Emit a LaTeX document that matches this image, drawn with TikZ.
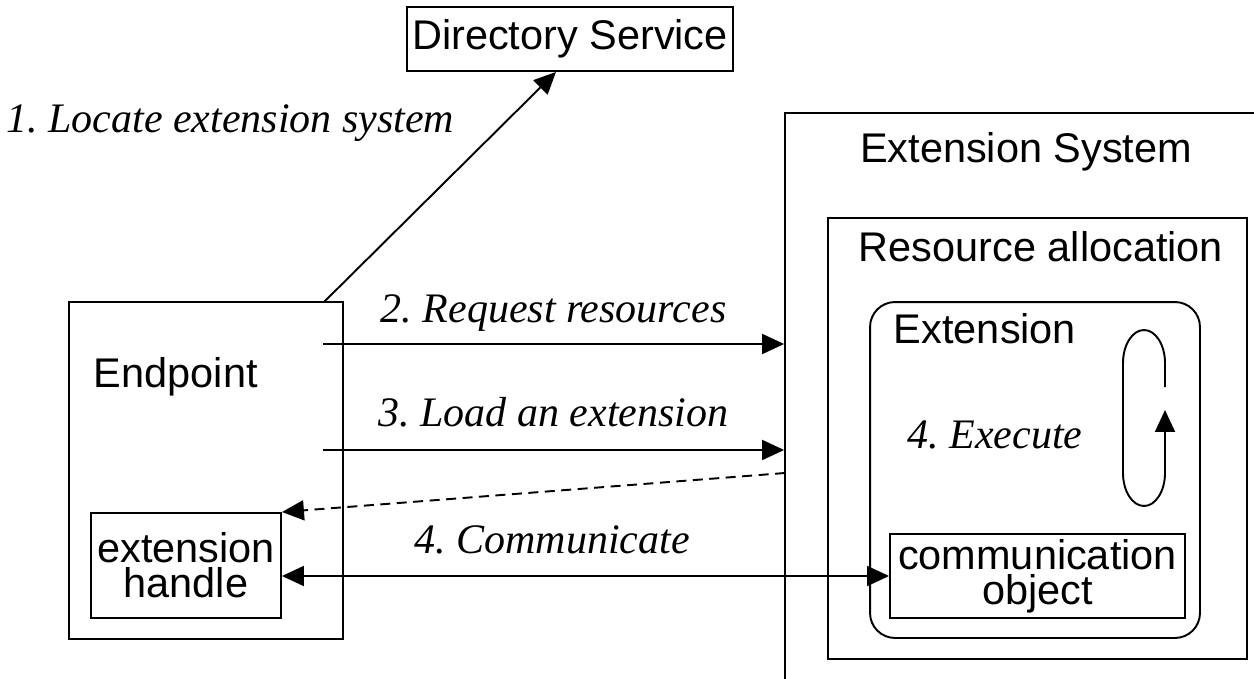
\documentclass[tikz,border=0pt]{standalone}
\usepackage{fontspec}
\setmainfont{Liberation Sans}
\newfontfamily\serifit{Liberation Serif}
\usetikzlibrary{arrows.meta}
\newcommand{\boxfont}{\fontsize{23.6}{20}\selectfont}
\newcommand{\stepfont}{\serifit\itshape\frenchspacing\fontsize{23.9}{26}\selectfont}

\begin{document}
\begin{tikzpicture}[x=0.02cm, y=-0.02cm, line width=1.1pt,
  box/.style={draw, rectangle, inner sep=0pt, align=center, font=\boxfont},
  title/.style={inner sep=0pt, font=\boxfont},
  steplbl/.style={inner sep=0pt, text depth=0pt, font=\stepfont},
  arr/.style={-{Triangle[length=0.44cm, width=0.4cm]}},
  dblarr/.style={{Triangle[length=0.44cm, width=0.4cm]}-{Triangle[length=0.44cm, width=0.4cm]}}]
			\useasboundingbox (0,0) rectangle (1254,679);
			\clip (0,0) rectangle (1254,679);
			
			\node[box, minimum width=6.52cm, minimum height=1.28cm] (dir) at (570,39) {Directory Service};
			\node[box, minimum width=5.48cm, minimum height=6.74cm] (endpoint) at (206,470.5) {};
			\node[box, minimum width=3.8cm, minimum height=2.1cm] (handle) at (186,565.5) {extension\\handle};
			\node[box, minimum width=10.3cm, minimum height=12.14cm] (sys) at (1042.5,416.5) {};
			\node[box, minimum width=8.38cm, minimum height=8.82cm] (res) at (1037.5,438.5) {};
			\node[box, rounded corners=0.5cm, minimum width=6.6cm, minimum height=6.72cm] (ext) at (1035,470) {};
			\node[box, minimum width=5.9cm, minimum height=1.68cm] (comm) at (1037.5,576) {communication\\object};
			
			\node[title, anchor=base west] (eplbl) at (93,387) {Endpoint};
			\node[title, anchor=base] (syslbl) at (1026,162) {Extension System};
			\node[title, anchor=base west] (reslbl) at (858,261) {Resource allocation};
			\node[title, anchor=base west] (extlbl) at (893,343) {Extension};
			\node[steplbl, anchor=base] (exec) at (995,448) {4. Execute};
			
			\coordinate (locate) at (324,302);
			\coordinate (req) at (323,344);
			\coordinate (load) at (323,450);
			\coordinate (reply) at (785,473);
			\coordinate (loopstart) at (1165,387);
			\coordinate (loopend) at (1165,410);
			
			\draw
			(locate) edge[arr] node[steplbl, pos=0.796, anchor=east, xshift=-1.07cm] {1. Locate extension system} ([xshift=-0.28cm]dir.south)
			(req) edge[arr] node[steplbl, above=0.42cm] {2. Request resources} (req -| sys.west)
			(load) edge[arr] node[steplbl, above=0.46cm] {3. Load an extension} (load -| sys.west)
			(reply) edge[arr, dash pattern=on 0.2cm off 0.13cm] (handle.north east)
			(handle.east |- comm.west) edge[dblarr] node[steplbl, pos=0.445, above=0.44cm] {4. Communicate} (comm.west);
			
			\draw[arr] (loopstart) -- ++(0,-24)
			arc[start angle=0, end angle=180, x radius=0.42cm, y radius=0.66cm] -- ++(0,110)
			arc[start angle=180, end angle=360, x radius=0.42cm, y radius=0.66cm] -- (loopend);
		\end{tikzpicture}
\end{document}
